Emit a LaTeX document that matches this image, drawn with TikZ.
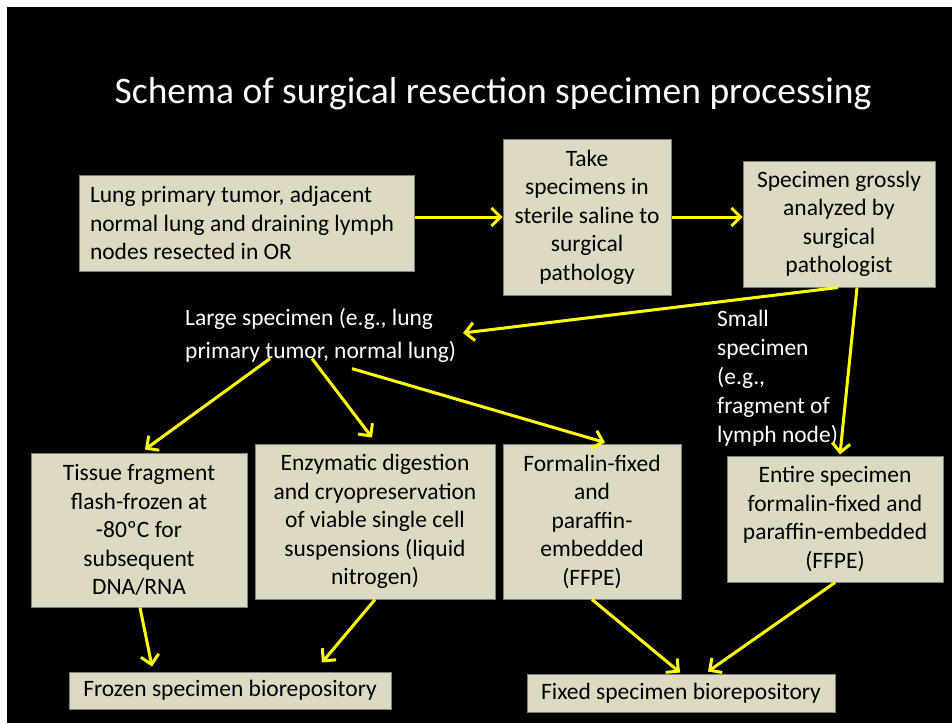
\documentclass[tikz,border=0pt]{standalone}
\usepackage{fontspec}
\setmainfont{Carlito}
\usetikzlibrary{arrows.meta}
\definecolor{beige}{HTML}{DDD9C3}
\definecolor{boxline}{HTML}{7F7F7F}
\definecolor{arrowyellow}{HTML}{FFFF00}
\begin{document}
\begin{tikzpicture}[x=1pt,y=-1pt,
  box/.style={draw=boxline, line width=1pt, fill=beige, text=black, inner sep=0pt, align=flush center, font=\fontsize{23.5}{28.5}\selectfont},
  lbl/.style={text=white, inner sep=0pt, align=flush left, anchor=north west},
  arr/.style={draw=arrowyellow, line width=3pt, -{Straight Barb[length=9pt,width=18pt]}}]
\fill[white] (0,0) rectangle (952,723);
\fill[black] (7,7) rectangle (952,723);
\useasboundingbox (0,0) rectangle (952,723);

\node[text=white, font=\fontsize{37.5}{40}\selectfont, anchor=base, inner sep=0pt] (title) at (493,103) {Schema of surgical resection specimen processing};

\node[box, align=flush left, text width=313pt, inner xsep=11pt, minimum height=96pt] (lung) at (246.5,223)
  {Lung primary tumor, adjacent\\normal lung and draining lymph\\nodes resected in OR};
\node[box, text width=168pt, minimum height=156pt] (box2) at (587,217)
  {Take\\specimens in\\sterile saline to\\surgical\\pathology};
\node[box, text width=192pt, minimum height=126pt] (box3) at (839,224)
  {Specimen grossly\\analyzed by\\surgical\\pathologist};

\node[lbl, font=\fontsize{23.5}{33}\selectfont] (large) at (185,308)
  {Large specimen (e.g., lung\\primary tumor, normal lung)};
\node[lbl, font=\fontsize{23.5}{29}\selectfont] (small) at (717,310)
  {Small\\specimen\\(e.g.,\\fragment of\\lymph node)};

\node[box, text width=216pt, minimum height=154pt] (tissue) at (139,530)
  {Tissue fragment\\flash-frozen at\\-80ºC for\\subsequent\\DNA/RNA};
\node[box, text width=240pt, minimum height=155pt] (enz) at (375,521.5)
  {Enzymatic digestion\\and cryopreservation\\of viable single cell\\suspensions (liquid\\nitrogen)};
\node[box, text width=178pt, minimum height=155pt] (form) at (592,521.5)
  {Formalin-fixed\\and\\paraffin-\\embedded\\(FFPE)};
\node[box, text width=216pt, minimum height=126pt] (entire) at (835,519)
  {Entire specimen\\formalin-fixed and\\paraffin-embedded\\(FFPE)};

\node[box, text width=322pt, minimum height=37pt] (frozen) at (230,690.5)
  {Frozen specimen biorepository};
\node[box, text width=308pt, minimum height=38pt] (fixed) at (681,693)
  {Fixed specimen biorepository};

\draw[arr] ([yshift=6pt]lung.east) -- (box2.west);
\draw[arr] (box2.east) -- (box2.east -| box3.west);
\draw[arr] ([xshift=-1pt]box3.south) -- ([xshift=278pt,yshift=-25pt]large.north west);
\draw[arr] ([xshift=18pt]box3.south) -- ([xshift=5pt,yshift=1pt]entire.north);
\draw[arr] ([xshift=85pt,yshift=4pt]large.south west) -- ([xshift=6pt,yshift=3pt]tissue.north);
\draw[arr] ([xshift=127pt,yshift=4pt]large.south west) -- ([xshift=-3pt,yshift=6pt]enz.north);
\draw[arr] ([xshift=167pt,yshift=-6pt]large.south west) -- ([xshift=13pt,yshift=1pt]form.north);
\draw[arr] ([xshift=1pt]tissue.south) -- ([xshift=-78pt,yshift=5pt]frozen.north);
\draw[arr] (enz.south) -- ([xshift=92pt,yshift=9pt]frozen.north);
\draw[arr] (form.south) -- ([xshift=-1pt,yshift=1pt]fixed.north);
\draw[arr] (entire.south) -- ([xshift=27pt,yshift=2pt]fixed.north);
\end{tikzpicture}
\end{document}
